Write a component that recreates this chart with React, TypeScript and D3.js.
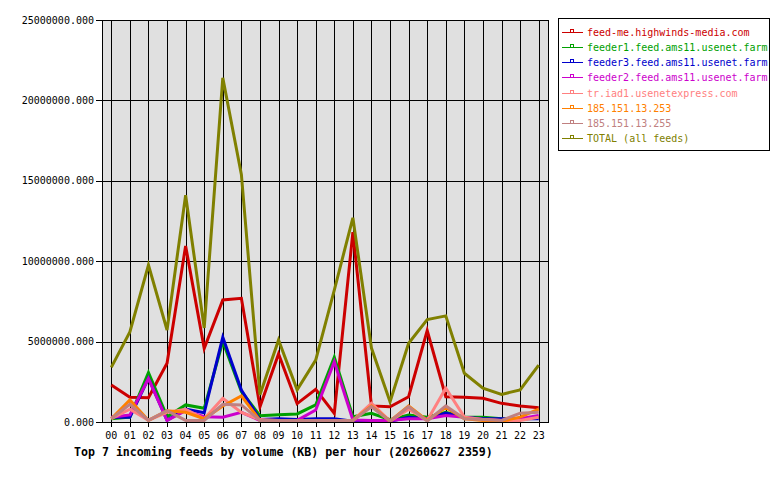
import React from "react";
import * as d3 from "d3";

const hours = ["00","01","02","03","04","05","06","07","08","09","10","11","12","13","14","15","16","17","18","19","20","21","22","23"];

const feedNames = [
  "feed-me.highwinds-media.com",
  "feeder1.feed.ams11.usenet.farm",
  "feeder3.feed.ams11.usenet.farm",
  "feeder2.feed.ams11.usenet.farm",
  "tr.iad1.usenetexpress.com",
  "185.151.13.253",
  "185.151.13.255",
  "TOTAL (all feeds)",
];

const feedColors = ["#cc0000", "#00a000", "#0000cc", "#cc00cc", "#ff8080", "#ff8000", "#c08080", "#808000"];

const highwinds = [2.3, 1.54, 1.51, 3.65, 10.95, 4.58, 7.59, 7.69, 0.95, 4.23, 1.14, 2.03, 0.54, 11.8, 1.0, 0.95, 1.57, 5.68, 1.57, 1.54, 1.47, 1.16, 1.0, 0.89];
const feeder1 = [0.2, 0.3, 3.07, 0.33, 1.06, 0.85, 5.0, 1.9, 0.39, 0.45, 0.5, 1.06, 4.02, 0.33, 0.54, 0.15, 0.44, 0.3, 0.6, 0.3, 0.3, 0.2, 0.15, 0.29];
const feeder3 = [0.3, 0.3, 2.72, 0.1, 0.8, 0.58, 5.27, 1.99, 0.15, 0.2, 0.15, 0.2, 0.2, 0.05, 0.1, 0.05, 0.3, 0.2, 0.56, 0.3, 0.2, 0.2, 0.2, 0.2];
const feeder2 = [0.3, 0.44, 2.7, 0.1, 0.7, 0.33, 0.3, 0.6, 0.1, 0.1, 0.1, 0.75, 3.75, 0.12, 0.1, 0.1, 0.2, 0.2, 0.4, 0.3, 0.15, 0.1, 0.2, 0.4];
const usenetexpress = [0.2, 0.8, 0.1, 0.6, 0.79, 0.2, 1.47, 0.6, 0.15, 0.1, 0.1, 0.1, 0.1, 0.1, 1.16, 0.05, 0.8, 0.1, 2.1, 0.3, 0.15, 0.1, 0.1, 0.3];
const ip253 = [0.2, 1.37, 0.1, 0.7, 0.6, 0.2, 1.0, 1.62, 0.1, 0.1, 0.1, 0.1, 0.1, 0.1, 1.0, 0.05, 1.0, 0.1, 0.9, 0.2, 0.1, 0.05, 0.3, 0.8];
const ip255 = [0.2, 1.1, 0.1, 0.7, 0.1, 0.1, 1.1, 1.06, 0.1, 0.1, 0.1, 0.1, 0.1, 0.1, 0.95, 0.05, 0.95, 0.05, 1.0, 0.2, 0.15, 0.1, 0.55, 0.6];
const total = [3.4, 5.6, 9.76, 5.72, 14.1, 5.85, 21.4, 15.4, 1.7, 5.1, 2.0, 3.85, 8.2, 12.7, 4.6, 1.26, 4.9, 6.37, 6.6, 3.03, 2.1, 1.72, 1.99, 3.54];

const series = [highwinds, feeder1, feeder3, feeder2, usenetexpress, ip253, ip255, total];

const yTicks = [0, 5e6, 10e6, 15e6, 20e6, 25e6];

const MONO = "'DejaVu Sans Mono', monospace";

export default function App() {
  const left = 102, right = 548, top = 20, bottom = 422;

  const x = d3.scalePoint<string>().domain(hours).range([left, right]).padding(0.5);
  const y = d3.scaleLinear().domain([0, 25e6]).range([bottom, top]);

  const line = d3.line<number>()
    .x((_, i) => x(hours[i]) as number)
    .y(d => y(d * 1e6));

  const fmt = d3.format(".3f");

  return (
    <svg width={780} height={480} style={{ position: "absolute", left: 0, top: 0, background: "#fff" }}>
      <rect x={left} y={top} width={right - left} height={bottom - top} fill="#e0e0e0" />
      {/* grid */}
      <g stroke="#000" strokeWidth={1} shapeRendering="crispEdges">
        {yTicks.map(t => (
          <line key={"h" + t} x1={left - 6} x2={right} y1={Math.round(y(t)) + 0.5} y2={Math.round(y(t)) + 0.5} />
        ))}
        {hours.map(h => (
          <line key={"v" + h} x1={Math.round(x(h) as number) + 0.5} x2={Math.round(x(h) as number) + 0.5} y1={top} y2={bottom + 5} />
        ))}
      </g>
      {/* series */}
      {series.map((s, i) => (
        <path key={feedNames[i]} d={line(s) || ""} fill="none" stroke={feedColors[i]} strokeWidth={3} strokeLinejoin="miter" />
      ))}
      <rect x={left + 0.5} y={top + 0.5} width={right - left} height={bottom - top} fill="none" stroke="#000" strokeWidth={1} shapeRendering="crispEdges" />
      {/* y labels */}
      {yTicks.map(t => (
        <text key={"yl" + t} x={94} y={y(t) + 3.5} textAnchor="end" fontFamily={MONO} fontSize={10} fill="#000">{fmt(t)}</text>
      ))}
      {hours.map(h => (
        <text key={"xl" + h} x={x(h) as number} y={439} textAnchor="middle" fontFamily={MONO} fontSize={10} fill="#000">{h}</text>
      ))}
      <text x={74} y={456} fontFamily={MONO} fontWeight="bold" fontSize={11.6} fill="#000">
        Top 7 incoming feeds by volume (KB) per hour (20260627 2359)
      </text>
      {/* legend */}
      <rect x={558.5} y={18.5} width={211} height={132} fill="#fff" stroke="#000" strokeWidth={1} shapeRendering="crispEdges" />
      {feedNames.map((n, i) => {
        const ly = Math.round(32 + i * 15.14) + 0.5;
        return (
          <g key={"lg" + n} shapeRendering="crispEdges">
            <line x1={562} x2={583} y1={ly} y2={ly} stroke={feedColors[i]} strokeWidth={1} />
            <rect x={570.5} y={ly - 3} width={3} height={3} fill="none" stroke={feedColors[i]} strokeWidth={1} />
            <text x={587} y={ly + 3.5} fontFamily={MONO} fontSize={10} fill={feedColors[i]}>{n}</text>
          </g>
        );
      })}
    </svg>
  );
}
